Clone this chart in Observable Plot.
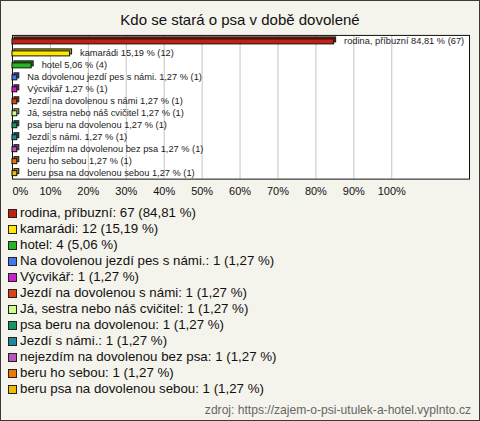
<!DOCTYPE html>
<html>
<head>
<meta charset="utf-8">
<script src="https://cdn.jsdelivr.net/npm/d3@7"></script>
<script src="https://cdn.jsdelivr.net/npm/@observablehq/plot@0.6"></script>
<style>
  html, body { margin: 0; padding: 0; background: #fff; }
  #frame { position: relative; width: 478px; height: 419px; border: 1px solid #3a3a3a; background: #f4f3ec; overflow: hidden; font-family: "Liberation Sans", Arial, sans-serif; }
  #title { position: absolute; left: -1px; width: 480px; top: 10px; text-align: center; font-size: 15px; color: #111; }
  #chart { position: absolute; left: -1px; top: -1px; }
  #legend { position: absolute; left: 7px; top: 204px; font-size: 13.3px; color: #111; }
  .row { height: 16px; line-height: 16px; white-space: nowrap; display: flex; align-items: center; }
  .sw { display: inline-block; width: 7px; height: 7px; border: 1px solid #222; margin-right: 3px; }
  #caption { position: absolute; right: 8px; top: 402px; font-size: 12.1px; color: #666; }
</style>
</head>
<body>
<div id="frame">
  <div id="title"></div>
  <div id="chart"></div>
  <div id="legend"></div>
  <div id="caption"></div>
</div>
<script>
const titleText = "Kdo se stará o psa v době dovolené";
const captionText = "zdroj: https://zajem-o-psi-utulek-a-hotel.vyplnto.cz";
const categories = [
  "rodina, příbuzní",
  "kamarádi",
  "hotel",
  "Na dovolenou jezdí pes s námi.",
  "Výcvikář",
  "Jezdí na dovolenou s námi",
  "Já, sestra nebo náš cvičitel",
  "psa beru na dovolenou",
  "Jezdí s námi.",
  "nejezdím na dovolenou bez psa",
  "beru ho sebou",
  "beru psa na dovolenou sebou"
];
const counts = [67, 12, 4, 1, 1, 1, 1, 1, 1, 1, 1, 1];
const percents = [84.81, 15.19, 5.06, 1.27, 1.27, 1.27, 1.27, 1.27, 1.27, 1.27, 1.27, 1.27];
const colors = ["#c22010", "#ffe800", "#22b822", "#4477ee", "#cc22cc", "#dd4411", "#ccff88", "#119966", "#228899", "#bb55bb", "#ee7700", "#eebb00"];
const ticks = [0, 10, 20, 30, 40, 50, 60, 70, 80, 90, 100];

const fmt = v => v.toFixed(2).replace(".", ",");
const data = categories.map((c, i) => ({
  cat: c,
  pct: percents[i],
  count: counts[i],
  color: colors[i],
  dark: d3.color(colors[i]).darker(0.9).formatHex(),
  label: `${c} ${fmt(percents[i])} % (${counts[i]})`
}));

document.getElementById("title").textContent = titleText;
document.getElementById("caption").textContent = captionText;

const chart = Plot.plot({
  width: 480,
  height: 205,
  marginLeft: 12,
  marginRight: 10,
  marginTop: 35,
  marginBottom: 26,
  style: { background: "transparent", fontFamily: "'Liberation Sans', Arial, sans-serif", color: "#111" },
  x: { domain: [0, 120.5], axis: null },
  y: { domain: categories, axis: null, padding: 0 },
  color: { type: "identity" },
  marks: [
    Plot.frame({ fill: "white", stroke: null }),
    Plot.ruleX(ticks.slice(1), { stroke: "#c4c4c4" }),
    Plot.frame({ stroke: "#111" }),
    Plot.barX(data, { x: "pct", y: "cat", fill: "dark", stroke: "#111", strokeWidth: 1, insetTop: 4, insetBottom: 3, dx: 2, dy: -2 }),
    Plot.barX(data, { x: "pct", y: "cat", fill: "color", stroke: "#111", strokeWidth: 1, insetTop: 4, insetBottom: 3 }),
    Plot.text(data, { x: "pct", y: "cat", text: "label", textAnchor: "start", dx: 10, dy: 0, fontSize: 9.3, fill: "#222" }),
    Plot.axisX(ticks.slice(1), { tickFormat: d => d + "%", tickSize: 0, tickPadding: 8, fontSize: 11, label: null }),
    Plot.axisX([0], { tickFormat: d => d + "%", tickSize: 0, tickPadding: 8, fontSize: 11, textAnchor: "start", label: null })
  ]
});
document.getElementById("chart").appendChild(chart);

const legend = document.getElementById("legend");
data.forEach(d => {
  const row = document.createElement("div");
  row.className = "row";
  const sw = document.createElement("span");
  sw.className = "sw";
  sw.style.background = d.color;
  const t = document.createElement("span");
  t.textContent = `${d.cat}: ${d.count} (${fmt(d.pct)} %)`;
  row.appendChild(sw);
  row.appendChild(t);
  legend.appendChild(row);
});
</script>
</body>
</html>
